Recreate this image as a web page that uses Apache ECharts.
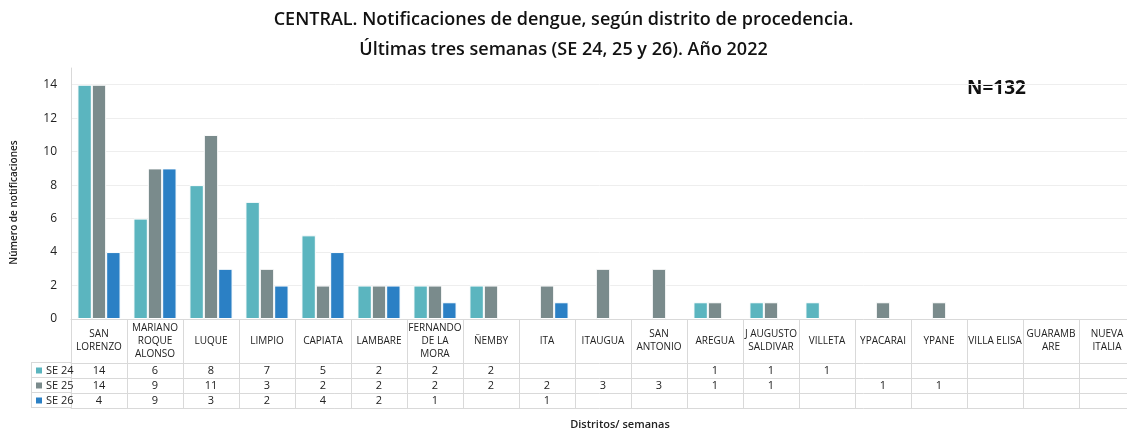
<!DOCTYPE html>
<html>
<head>
<meta charset="utf-8">
<script src="https://cdn.jsdelivr.net/npm/echarts@6/dist/echarts.min.js"></script>
<style>
  html, body { margin: 0; padding: 0; background: #fff; }
  #chart { width: 1127px; height: 430px; }
</style>
</head>
<body>
<div id="chart"></div>
<script>
var districts = ['SAN\nLORENZO', 'MARIANO\nROQUE\nALONSO', 'LUQUE', 'LIMPIO', 'CAPIATA', 'LAMBARE',
    'FERNANDO\nDE LA\nMORA', 'ÑEMBY', 'ITA', 'ITAUGUA', 'SAN\nANTONIO', 'AREGUA', 'J AUGUSTO\nSALDIVAR',
    'VILLETA', 'YPACARAI', 'YPANE', 'VILLA ELISA', 'GUARAMB\nARE', 'NUEVA\nITALIA'];
var se24 = [14, 6, 8, 7, 5, 2, 2, 2, null, null, null, 1, 1, 1, null, null, null, null, null];
var se25 = [14, 9, 11, 3, 2, 2, 2, 2, 2, 3, 3, 1, 1, null, 1, 1, null, null, null];
var se26 = [4, 9, 3, 2, 4, 2, 1, null, 1, null, null, null, null, null, null, null, null, null, null];
var yTicks = [0, 2, 4, 6, 8, 10, 12, 14];

var weeks = ['SE 24', 'SE 25', 'SE 26'];
var weekData = [se24, se25, se26];
var weekColors = ['#5bb5bf', '#7a8b8c', '#2b80c5'];
var lineColor = '#d9d9d9';
var font = '"Open Sans", "Noto Sans", sans-serif';

var chart = echarts.init(document.getElementById('chart'));

// one extra x axis per table row, the axis line draws the row border
function rowAxis(i) {
    var data = weekData[i];
    return {
        type: 'category',
        data: districts,
        gridIndex: 0,
        position: 'bottom',
        offset: 44 + 15 * i,
        axisLine: { show: true, lineStyle: { color: lineColor } },
        axisTick: { show: false },
        axisLabel: {
            interval: 0,
            margin: 8,
            verticalAlign: 'middle',
            fontSize: 11,
            fontFamily: font,
            color: '#222',
            formatter: function (v, idx) {
                return data[idx] == null ? '' : String(data[idx]);
            }
        }
    };
}

var xAxes = [{
    type: 'category',
    data: districts,
    position: 'bottom',
    name: 'Distritos/ semanas',
    nameLocation: 'middle',
    nameGap: 100,
    nameTextStyle: { fontSize: 11, fontWeight: 600, fontFamily: font, color: '#222', padding: [0, 0, 0, 34] },
    axisLine: { lineStyle: { color: lineColor } },
    axisTick: { show: true, length: 89, lineStyle: { color: lineColor } },
    axisLabel: {
        interval: 0,
        margin: 22,
        verticalAlign: 'middle',
        lineHeight: 13,
        fontSize: 10,
        fontFamily: font,
        color: '#222'
    }
}];
for (var i = 0; i < 3; i++) xAxes.push(rowAxis(i));
// bottom border of the table
xAxes.push({
    type: 'category',
    data: districts,
    position: 'bottom',
    offset: 89,
    axisLine: { lineStyle: { color: lineColor } },
    axisTick: { show: false },
    axisLabel: { show: false }
});

var series = weeks.map(function (w, i) {
    return {
        name: w,
        type: 'bar',
        xAxisIndex: 0,
        data: weekData[i],
        barGap: '0%',
        barCategoryGap: '23%',
        itemStyle: { color: weekColors[i], borderColor: '#fff', borderWidth: 1 }
    };
});

// left column borders of the table, beside the legend
var tableLines = [];
[362, 377, 392, 407].forEach(function (y) {
    tableLines.push({ type: 'line', shape: { x1: 31, y1: y + 0.5, x2: 71, y2: y + 0.5 },
        style: { stroke: lineColor, lineWidth: 1 } });
});
tableLines.push({ type: 'line', shape: { x1: 31.5, y1: 362, x2: 31.5, y2: 407 },
    style: { stroke: lineColor, lineWidth: 1 } });
tableLines.push({ type: 'text', left: 967, top: 79,
    style: { text: 'N=132', font: 'bold 19px ' + font, fill: '#111' } });

chart.setOption({
    animation: false,
    title: {
        text: 'CENTRAL. Notificaciones de dengue, según distrito de procedencia.\nÚltimas tres semanas (SE 24, 25 y 26). Año 2022',
        left: 'center',
        top: 0,
        textStyle: { fontSize: 18, fontWeight: 600, fontFamily: font, color: '#111', lineHeight: 30 }
    },
    legend: {
        data: weeks,
        orient: 'vertical',
        left: 34,
        top: 363,
        itemWidth: 8,
        itemHeight: 8,
        itemGap: 0,
        icon: 'rect',
        padding: 0,
        textStyle: { fontSize: 11, fontFamily: font, color: '#222', lineHeight: 15, height: 15, padding: [0, 0, 0, -2] }
    },
    grid: { left: 71, right: -8, top: 68, bottom: 111, outerBoundsMode: 'none' },
    xAxis: xAxes,
    yAxis: {
        type: 'value',
        min: 0,
        max: 15,
        interval: 2,
        name: 'Número de notificaciones',
        nameLocation: 'middle',
        nameGap: 52,
        nameTextStyle: { fontSize: 10, fontWeight: 600, fontFamily: font, color: '#222', padding: [0, 18, 0, 0] },
        axisLine: { show: true, lineStyle: { color: lineColor } },
        axisTick: { show: false },
        axisLabel: {
            fontSize: 12, fontFamily: font, color: '#222', margin: 14, showMaxLabel: false,
            formatter: function (v) { return yTicks.indexOf(v) >= 0 ? String(v) : ''; }
        },
        splitLine: { showMaxLine: false, lineStyle: { color: '#eeeeee' } }
    },
    graphic: tableLines,
    series: series
});
</script>
</body>
</html>
